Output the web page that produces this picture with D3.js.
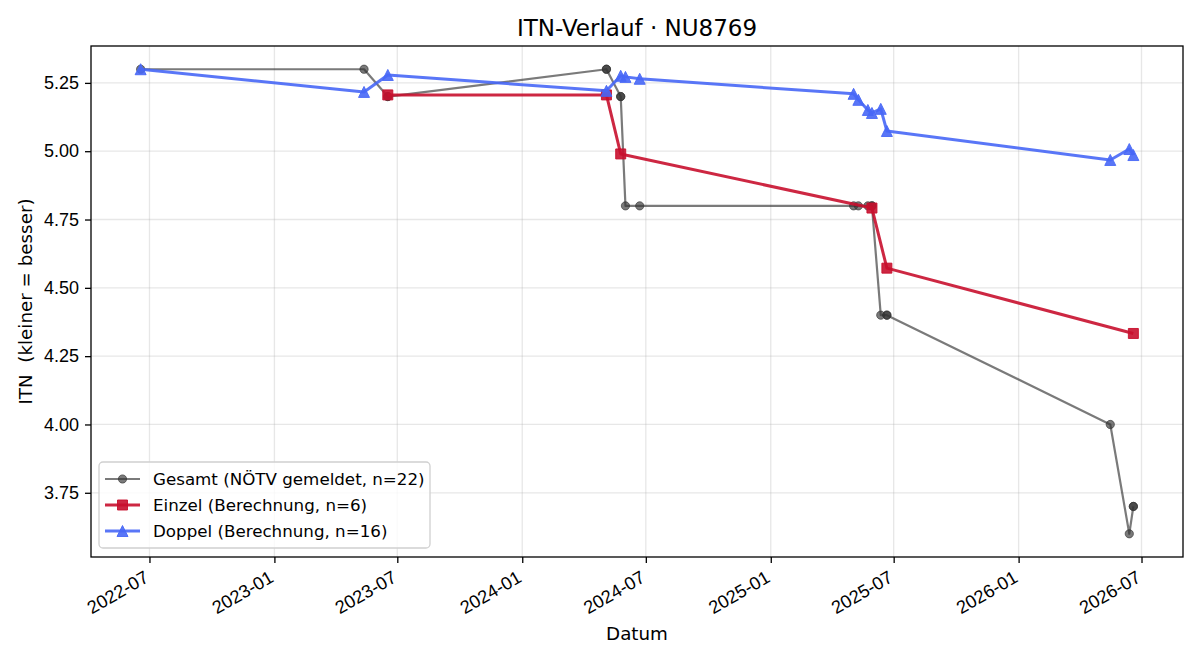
<!DOCTYPE html>
<html>
<head>
<meta charset="utf-8">
<script src="https://cdn.jsdelivr.net/npm/d3@7"></script>
<style>
  body { margin: 0; background: #fff; }
  svg { display: block; font-family: "DejaVu Sans", sans-serif; }
</style>
</head>
<body>
<svg width="1200" height="660"></svg>
<script>
// ITN history, three series
const gesamtDates = ["2022-06-18", "2023-05-13", "2023-06-17", "2023-06-17", "2024-05-04", "2024-05-04",
  "2024-05-25", "2024-05-25", "2024-06-01", "2024-06-22", "2025-05-03", "2025-05-10", "2025-05-24",
  "2025-05-30", "2025-05-30", "2025-06-12", "2025-06-21", "2025-06-21", "2026-05-16", "2026-06-13",
  "2026-06-19", "2026-06-19"];
const gesamtValues = [5.3, 5.3, 5.2, 5.2, 5.3, 5.3, 5.2, 5.2, 4.8, 4.8, 4.8, 4.8, 4.8, 4.8, 4.8,
  4.4, 4.4, 4.4, 4.0, 3.6, 3.7, 3.7];

const einzelDates = ["2023-06-17", "2024-05-04", "2024-05-25", "2025-05-30", "2025-06-21", "2026-06-19"];
const einzelValues = [5.206, 5.206, 4.99, 4.792, 4.572, 4.333];

const doppelDates = ["2022-06-18", "2023-05-13", "2023-06-17", "2024-05-04", "2024-05-25", "2024-06-01",
  "2024-06-22", "2025-05-03", "2025-05-10", "2025-05-24", "2025-05-30", "2025-06-12", "2025-06-21",
  "2026-05-16", "2026-06-13", "2026-06-19"];
const doppelValues = [5.3, 5.217, 5.279, 5.221, 5.276, 5.272, 5.265, 5.21, 5.188, 5.151, 5.14,
  5.155, 5.074, 4.968, 5.008, 4.986];

const seriesNames = ["Gesamt (NÖTV gemeldet, n=22)", "Einzel (Berechnung, n=6)", "Doppel (Berechnung, n=16)"];
const yTicks = [3.75, 4.0, 4.25, 4.5, 4.75, 5.0, 5.25];

const width = 1200, height = 660;
const margin = {top: 46, right: 17, bottom: 103, left: 91};
const parse = d3.timeParse("%Y-%m-%d");

const zip = (dates, vals) => dates.map((d, i) => ({date: parse(d), value: vals[i]}));
const series = [
  {name: seriesNames[0], data: zip(gesamtDates, gesamtValues), color: "#333", opacity: 0.65, lw: 2.2, marker: "circle"},
  {name: seriesNames[1], data: zip(einzelDates, einzelValues), color: "#c8102e", opacity: 0.9, lw: 3, marker: "square"},
  {name: seriesNames[2], data: zip(doppelDates, doppelValues), color: "#4767f6", opacity: 0.9, lw: 3, marker: "triangle"}
];

const all = series.flatMap(s => s.data);
const [t0, t1] = d3.extent(all, d => +d.date);
const tPad = (t1 - t0) * 0.05;
const [v0, v1] = d3.extent(all, d => d.value);
const vPad = (v1 - v0) * 0.05;

const x = d3.scaleTime()
  .domain([new Date(t0 - tPad), new Date(t1 + tPad)])
  .range([margin.left, width - margin.right]);
const y = d3.scaleLinear()
  .domain([v0 - vPad, v1 + vPad])
  .range([height - margin.bottom, margin.top]);

const svg = d3.select("svg");
const plotW = width - margin.left - margin.right;
const plotH = height - margin.top - margin.bottom;
const xTicks = d3.timeMonth.every(6).range(x.domain()[0], x.domain()[1]);

// grid
const grid = svg.append("g").attr("stroke", "#b0b0b0").attr("stroke-opacity", 0.3).attr("stroke-width", 1.3);
grid.selectAll(".gx").data(xTicks).join("line")
  .attr("x1", d => x(d)).attr("x2", d => x(d))
  .attr("y1", margin.top).attr("y2", height - margin.bottom);
grid.selectAll(".gy").data(yTicks).join("line")
  .attr("x1", margin.left).attr("x2", width - margin.right)
  .attr("y1", d => y(d)).attr("y2", d => y(d));

// axes
const xAxis = svg.append("g")
  .attr("transform", `translate(0,${height - margin.bottom})`)
  .call(d3.axisBottom(x).tickValues(xTicks).tickFormat(d3.timeFormat("%Y-%m")).tickSizeOuter(0).tickSize(6));
xAxis.select(".domain").remove();
xAxis.selectAll(".tick line").attr("stroke-width", 1.3);
xAxis.selectAll("text")
  .attr("font-size", 18.3)
  .attr("fill", "#000")
  .attr("text-anchor", "end")
  .attr("x", 0).attr("y", 0).attr("dy", 0)
  .attr("transform", "translate(0,24) rotate(-30)");

const yAxis = svg.append("g")
  .attr("transform", `translate(${margin.left},0)`)
  .call(d3.axisLeft(y).tickValues(yTicks).tickFormat(d3.format(".2f")).tickSizeOuter(0).tickSize(6).tickPadding(6));
yAxis.select(".domain").remove();
yAxis.selectAll(".tick line").attr("stroke-width", 1.3);
yAxis.selectAll("text").attr("font-size", 18).attr("fill", "#000");

// clip for data
svg.append("clipPath").attr("id", "clip").append("rect")
  .attr("x", margin.left).attr("y", margin.top).attr("width", plotW).attr("height", plotH);

const line = d3.line().x(d => x(d.date)).y(d => y(d.value));

function markerPath(type) {
  if (type === "square") return "M-5,-5H5V5H-5Z";
  if (type === "triangle") return "M0,-5.5L-5.5,5.5L5.5,5.5Z";
  return d3.symbol(d3.symbolCircle, Math.PI * 17)();
}

const plot = svg.append("g").attr("clip-path", "url(#clip)");
series.forEach(s => {
  const g = plot.append("g");
  g.append("path")
    .datum(s.data)
    .attr("fill", "none")
    .attr("stroke", s.color)
    .attr("stroke-opacity", s.opacity)
    .attr("stroke-width", s.lw)
    .attr("stroke-linejoin", "round")
    .attr("d", line);
  g.selectAll(".m").data(s.data).join("path")
    .attr("transform", d => `translate(${x(d.date)},${y(d.value)})`)
    .attr("d", markerPath(s.marker))
    .attr("fill", s.color)
    .attr("fill-opacity", s.opacity)
    .attr("stroke", s.color)
    .attr("stroke-opacity", s.opacity)
    .attr("stroke-width", 1);
});

// frame
svg.append("rect")
  .attr("x", margin.left).attr("y", margin.top).attr("width", plotW).attr("height", plotH)
  .attr("fill", "none").attr("stroke", "#000").attr("stroke-width", 1.3);

// title and labels
svg.append("text").attr("x", margin.left + plotW / 2).attr("y", 36)
  .attr("text-anchor", "middle").attr("font-size", 23).text("ITN-Verlauf · NU8769");
svg.append("text").attr("x", margin.left + plotW / 2).attr("y", 640)
  .attr("text-anchor", "middle").attr("font-size", 18.3).text("Datum");
svg.append("text")
  .attr("transform", `translate(32,${margin.top + plotH / 2}) rotate(-90)`)
  .attr("text-anchor", "middle").attr("font-size", 18.3)
  .style("white-space", "pre")
  .text("ITN  (kleiner = besser)");

// legend
const lg = svg.append("g").attr("transform", "translate(99,462)");
lg.append("rect").attr("width", 331).attr("height", 86).attr("rx", 4)
  .attr("fill", "#fff").attr("fill-opacity", 0.8).attr("stroke", "#d0d0d0").attr("stroke-width", 1.3);
series.forEach((s, i) => {
  const row = lg.append("g").attr("transform", `translate(0,${17 + i * 26})`);
  row.append("line").attr("x1", 6).attr("x2", 41)
    .attr("stroke", s.color).attr("stroke-opacity", s.opacity).attr("stroke-width", s.lw);
  row.append("path").attr("transform", "translate(23.5,0)").attr("d", markerPath(s.marker))
    .attr("fill", s.color).attr("fill-opacity", s.opacity)
    .attr("stroke", s.color).attr("stroke-opacity", s.opacity);
  row.append("text").attr("x", 54).attr("y", 6).attr("font-size", 16.7).text(s.name);
});
</script>
</body>
</html>
